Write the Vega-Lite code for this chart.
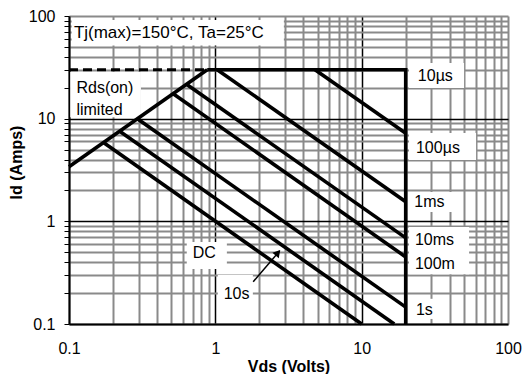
{
  "$schema": "https://vega.github.io/schema/vega-lite/v6.json",
  "width": 439,
  "height": 308,
  "autosize": "none",
  "padding": {"left": 69, "top": 16, "right": 14, "bottom": 50},
  "background": "white",
  "config": {"view": {"stroke": null}, "font": "Liberation Sans"},
  "datasets": {
    "boxes": [
      {"x1": 0.1043, "x2": 2.94, "y1": 51.5, "y2": 91.6},
      {"x1": 0.102, "x2": 0.31, "y1": 10.3, "y2": 28.5},
      {"x1": 21.07, "x2": 50.1, "y1": 19.9, "y2": 34.9},
      {"x1": 21.07, "x2": 60.5, "y1": 3.96, "y2": 7.26},
      {"x1": 21.07, "x2": 42.2, "y1": 1.23, "y2": 1.93},
      {"x1": 21.07, "x2": 54.2, "y1": 0.306, "y2": 0.88},
      {"x1": 21.07, "x2": 33.1, "y1": 0.112, "y2": 0.176},
      {"x1": 0.638, "x2": 1.199, "y1": 0.343, "y2": 0.628},
      {"x1": 1.04, "x2": 1.805, "y1": 0.156, "y2": 0.3}
    ],
    "lines": [
      {"s": "Rds", "o": 0, "v": 0.1, "i": 3.4},
      {"s": "Rds", "o": 1, "v": 0.88, "i": 30},
      {"s": "env", "o": 0, "v": 0.88, "i": 30},
      {"s": "env", "o": 1, "v": 20, "i": 30},
      {"s": "env", "o": 2, "v": 20, "i": 0.1},
      {"s": "100us", "o": 0, "v": 4.8, "i": 30},
      {"s": "100us", "o": 1, "v": 20, "i": 7.2},
      {"s": "1ms", "o": 0, "v": 1.03, "i": 30},
      {"s": "1ms", "o": 1, "v": 20, "i": 1.55},
      {"s": "10ms", "o": 0, "v": 0.635, "i": 21.6},
      {"s": "10ms", "o": 1, "v": 20, "i": 0.69},
      {"s": "100ms", "o": 0, "v": 0.515, "i": 17.5},
      {"s": "100ms", "o": 1, "v": 20, "i": 0.45},
      {"s": "1s", "o": 0, "v": 0.293, "i": 9.97},
      {"s": "1s", "o": 1, "v": 20, "i": 0.146},
      {"s": "10s", "o": 0, "v": 0.222, "i": 7.55},
      {"s": "10s", "o": 1, "v": 16.7, "i": 0.1},
      {"s": "DC", "o": 0, "v": 0.172, "i": 5.85},
      {"s": "DC", "o": 1, "v": 10, "i": 0.1}
    ],
    "dash": [
      {"v": 0.1, "i": 30},
      {"v": 0.88, "i": 30}
    ],
    "arrow": [
      {"x1": 1.814, "y1": 0.2578, "x2": 2.75, "y2": 0.515}
    ],
    "head": [
      {"v": 2.676, "i": 0.4946}
    ],
    "leftText": [
      {"t": "Rds(on)", "v": 0.1124, "i": 19.9},
      {"t": "limited", "v": 0.1124, "i": 12.2},
      {"t": "10\u00b5s", "v": 24.2, "i": 26.1},
      {"t": "100\u00b5s", "v": 23.5, "i": 5.15},
      {"t": "1ms", "v": 22.9, "i": 1.54},
      {"t": "10ms", "v": 23.1, "i": 0.653},
      {"t": "100m", "v": 23.1, "i": 0.386},
      {"t": "1s", "v": 23.5, "i": 0.1375}
    ],
    "centerText": [
      {"t": "DC", "v": 0.841, "i": 0.491},
      {"t": "10s", "v": 1.396, "i": 0.1956}
    ],
    "titleText": [
      {"t": "Tj(max)=150\u00b0C, Ta=25\u00b0C", "v": 0.108, "i": 68.3}
    ]
  },
  "layer": [
    {
      "data": {"name": "boxes"},
      "mark": {"type": "rect", "fill": "white"},
      "encoding": {
        "x": {
          "field": "x1", "type": "quantitative",
          "scale": {"type": "log", "domain": [0.1, 100]},
          "axis": {
            "title": "Vds (Volts)",
            "values": [0.1,0.2,0.3,0.4,0.5,0.6,0.7,0.8,0.9,1,2,3,4,5,6,7,8,9,10,20,30,40,50,60,70,80,90,100],
            "format": "~g",
            "labelExpr": "(datum.value==0.1||datum.value==1||datum.value==10||datum.value==100) ? datum.label : ''",
            "ticks": false,
            "labelPadding": 16,
            "labelFontSize": 16,
            "labelColor": "black",
            "labelFlush": false,
            "labelOverlap": false,
            "domainColor": "black",
            "domainWidth": 2,
            "grid": true,
            "gridColor": {"condition": {"test": "datum.value==1||datum.value==10", "value": "black"}, "value": "#8a8a8a"},
            "gridWidth": {"condition": {"test": "datum.value==1||datum.value==10", "value": 1.5}, "value": 2},
            "gridOpacity": 1,
            "titleFontWeight": "bold",
            "titleFontSize": 16,
            "titleColor": "black",
            "titleBaseline": "alphabetic",
            "titleY": 47
          }
        },
        "x2": {"field": "x2"},
        "y": {
          "field": "y1", "type": "quantitative",
          "scale": {"type": "log", "domain": [0.1, 100]},
          "axis": {
            "title": "Id (Amps)",
            "values": [0.1,0.2,0.3,0.4,0.5,0.6,0.7,0.8,0.9,1,2,3,4,5,6,7,8,9,10,20,30,40,50,60,70,80,90,100],
            "format": "~g",
            "labelExpr": "(datum.value==0.1||datum.value==1||datum.value==10||datum.value==100) ? datum.label : ''",
            "ticks": true,
            "tickSize": 5,
            "tickColor": "black",
            "tickWidth": 1,
            "labelPadding": 9,
            "labelFontSize": 16,
            "labelColor": "black",
            "labelFlush": false,
            "labelOverlap": false,
            "domainColor": "black",
            "domainWidth": 2,
            "grid": true,
            "gridColor": {"condition": {"test": "datum.value==1||datum.value==10", "value": "black"}, "value": "#8a8a8a"},
            "gridWidth": {"condition": {"test": "datum.value==1||datum.value==10", "value": 1.5}, "value": 2},
            "gridOpacity": 1,
            "titleFontWeight": "bold",
            "titleFontSize": 16,
            "titleColor": "black",
            "titleBaseline": "alphabetic",
            "titleAlign": "center",
            "titleX": -48,
            "titleY": 146
          }
        },
        "y2": {"field": "y2"}
      }
    },
    {
      "data": {"name": "lines"},
      "mark": {"type": "line", "color": "black", "strokeWidth": 3.6, "strokeCap": "butt", "strokeJoin": "miter"},
      "encoding": {
        "x": {"field": "v", "type": "quantitative", "scale": {"type": "log", "domain": [0.1, 100]}},
        "y": {"field": "i", "type": "quantitative", "scale": {"type": "log", "domain": [0.1, 100]}},
        "detail": {"field": "s"},
        "order": {"field": "o"}
      }
    },
    {
      "data": {"name": "dash"},
      "mark": {"type": "line", "color": "black", "strokeWidth": 3, "strokeDash": [9, 5]},
      "encoding": {
        "x": {"field": "v", "type": "quantitative", "scale": {"type": "log", "domain": [0.1, 100]}},
        "y": {"field": "i", "type": "quantitative", "scale": {"type": "log", "domain": [0.1, 100]}}
      }
    },
    {
      "data": {"name": "arrow"},
      "mark": {"type": "rule", "color": "black", "strokeWidth": 1.5},
      "encoding": {
        "x": {"field": "x1", "type": "quantitative", "scale": {"type": "log", "domain": [0.1, 100]}},
        "y": {"field": "y1", "type": "quantitative", "scale": {"type": "log", "domain": [0.1, 100]}},
        "x2": {"field": "x2"},
        "y2": {"field": "y2"}
      }
    },
    {
      "data": {"name": "head"},
      "mark": {"type": "point", "shape": "triangle-up", "filled": true, "color": "black", "opacity": 1, "size": 70, "angle": 40},
      "encoding": {
        "x": {"field": "v", "type": "quantitative", "scale": {"type": "log", "domain": [0.1, 100]}},
        "y": {"field": "i", "type": "quantitative", "scale": {"type": "log", "domain": [0.1, 100]}}
      }
    },
    {
      "data": {"name": "leftText"},
      "mark": {"type": "text", "align": "left", "baseline": "middle", "fontSize": 16, "color": "black"},
      "encoding": {
        "x": {"field": "v", "type": "quantitative", "scale": {"type": "log", "domain": [0.1, 100]}},
        "y": {"field": "i", "type": "quantitative", "scale": {"type": "log", "domain": [0.1, 100]}},
        "text": {"field": "t"}
      }
    },
    {
      "data": {"name": "centerText"},
      "mark": {"type": "text", "align": "center", "baseline": "middle", "fontSize": 16, "color": "black"},
      "encoding": {
        "x": {"field": "v", "type": "quantitative", "scale": {"type": "log", "domain": [0.1, 100]}},
        "y": {"field": "i", "type": "quantitative", "scale": {"type": "log", "domain": [0.1, 100]}},
        "text": {"field": "t"}
      }
    },
    {
      "data": {"name": "titleText"},
      "mark": {"type": "text", "align": "left", "baseline": "middle", "fontSize": 17, "color": "black"},
      "encoding": {
        "x": {"field": "v", "type": "quantitative", "scale": {"type": "log", "domain": [0.1, 100]}},
        "y": {"field": "i", "type": "quantitative", "scale": {"type": "log", "domain": [0.1, 100]}},
        "text": {"field": "t"}
      }
    }
  ]
}
